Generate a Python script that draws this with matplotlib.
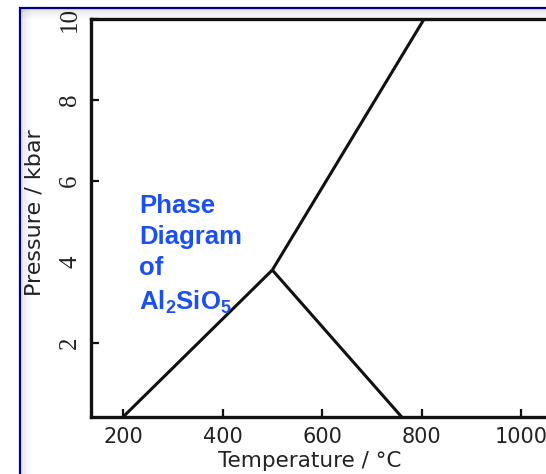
import matplotlib
matplotlib.use("Agg")
import matplotlib.pyplot as plt
from matplotlib.patches import Rectangle

# ---- data ----
ky_and_T = [200, 500]
ky_and_P = [0.17, 3.8]
ky_sil_T = [500, 805]
ky_sil_P = [3.8, 10.0]
and_sil_T = [500, 760]
and_sil_P = [3.8, 0.17]
x_ticks = [200, 400, 600, 800, 1000]
y_ticks = [2, 4, 6, 8, 10]
x_label = "Temperature / °C"
y_label = "Pressure / kbar"
note_lines = ["Phase", "Diagram", "of", r"Al$_\mathbf{2}$SiO$_\mathbf{5}$"]

plt.rcParams['mathtext.fontset'] = 'custom'
plt.rcParams['mathtext.bf'] = 'Liberation Sans:bold'
plt.rcParams['mathtext.rm'] = 'Liberation Sans'

W, H = 546, 474
fig = plt.figure(figsize=(W / 100, H / 100), dpi=100)
fig.patch.set_facecolor('white')

# frame with light shadow
for i, a in enumerate([0.10, 0.07, 0.05, 0.03, 0.02]):
    fig.patches.append(Rectangle((21 / W + i * 2 / W, 0), 2 / W, 1 - 9 / H,
                                 transform=fig.transFigure, color='black', alpha=a, lw=0))
    fig.patches.append(Rectangle((21 / W, 1 - 9 / H - (i + 1) * 2 / H), 1, 2 / H,
                                 transform=fig.transFigure, color='black', alpha=a, lw=0))
fig.patches.append(Rectangle((20 / W, -0.1), 1.2, 1 - 8 / H + 0.1, transform=fig.transFigure,
                             fill=False, edgecolor='#00008b', lw=1.6))

left, right, bottom, top = 91, 560, 417, 19
ax = fig.add_axes([left / W, (H - bottom) / H, (right - left) / W, (bottom - top) / H])
ax.set_facecolor('none')

lc = '#111111'
ax.plot(ky_and_T, ky_and_P, color=lc, lw=2.2, solid_capstyle='butt')
ax.plot(ky_sil_T, ky_sil_P, color=lc, lw=2.2, solid_capstyle='butt')
ax.plot(and_sil_T, and_sil_P, color=lc, lw=2.2, solid_capstyle='butt')

ax.set_xlim(135.7, 1078)
ax.set_ylim(0.17, 10)
ax.set_xticks(x_ticks)
ax.set_yticks(y_ticks)
ax.set_xticklabels([str(v) for v in x_ticks], fontsize=15, color='#222222', family='DejaVu Sans')
ax.set_yticklabels([str(v) for v in y_ticks], fontsize=18, color='#222222',
                   family='Liberation Serif', rotation=90, va='center')
ax.tick_params(axis='both', direction='in', length=6, width=1.6, color=lc, pad=7)
# the 4 kbar tick has no mark in the reference
ax.yaxis.get_major_ticks()[1].tick1line.set_visible(False)

for s in ax.spines.values():
    s.set_linewidth(2.4)
    s.set_color(lc)
ax.spines['right'].set_visible(False)

ax.set_xlabel(x_label, fontsize=15.5, color='#222222', va='center')
ax.xaxis.set_label_coords((310 - left) / (right - left), -(461 - bottom) / (bottom - top))

fig.text(35 / W, 1 - 213 / H, y_label, rotation=90, ha='center', va='center',
         fontsize=16, color='#222222', family=['Liberation Sans Narrow', 'DejaVu Sans'])

ax.text((139 - left) / (right - left), (bottom - 194) / (bottom - top), "\n".join(note_lines),
        transform=ax.transAxes, ha='left', va='top', fontsize=18.5, fontweight='bold',
        family='Liberation Sans', color='#1a4ff2', linespacing=1.38)

fig.savefig('out.png', dpi=100)
